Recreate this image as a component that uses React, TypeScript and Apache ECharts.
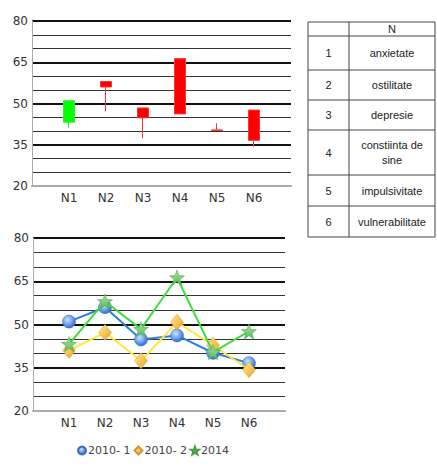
import React, { useEffect, useRef } from "react";
import * as echarts from "echarts";

const categories = ["N1", "N2", "N3", "N4", "N5", "N6"];
const s2010_1 = [51, 56, 44.8, 46.2, 40.2, 36.6];
const s2010_2 = [41, 47.2, 37.4, 50.8, 42.8, 34.3];
const s2014 = [43.2, 58, 48.4, 66.3, 40.4, 47.6];
const seriesNames = ["2010- 1", "2010- 2", "2014"];
const tableHeader = ["", "N"];
const tableNumbers = ["1", "2", "3", "4", "5", "6"];
const tableLabels = ["anxietate", "ostilitate", "depresie", "constiinta de\nsine", "impulsivitate", "vulnerabilitate"];

const STAR = "path://M10 0L12.35 6.76L19.51 6.91L13.8 11.24L15.88 18.09L10 14L4.12 18.09L6.2 11.24L0.49 6.91L7.65 6.76Z";

export default function App() {
  const ref = useRef<HTMLDivElement>(null);
  useEffect(() => {
    if (!ref.current) return;
    const chart = echarts.init(ref.current, undefined, { renderer: "svg" });
    const xData = ["", ...categories, ""];
    const candle = categories.map((c, i) => [
      c,
      s2014[i],
      s2010_1[i],
      Math.min(s2010_1[i], s2010_2[i], s2014[i]),
      Math.max(s2010_1[i], s2010_2[i], s2014[i]),
    ]);
    const font = "DejaVu Sans";
    const mkX = (gi: number) => ({
      type: "category",
      gridIndex: gi,
      data: xData,
      boundaryGap: false,
      axisLine: { show: true, lineStyle: { color: "#aaa", width: 2 } },
      axisTick: { show: false },
      axisLabel: { color: "#333", fontSize: 12, fontFamily: font, margin: 6, interval: 0 },
      splitLine: { show: false },
    });
    const mkY = (gi: number) => ({
      type: "value",
      gridIndex: gi,
      min: 20,
      max: 80,
      interval: 15,
      axisLine: { show: true, lineStyle: { color: "#aaa", width: 1 } },
      axisTick: { show: false },
      axisLabel: { color: "#333", fontSize: 12, fontFamily: font, margin: 4 },
      splitLine: { show: true, lineStyle: { color: "#111", width: 2 } },
      minorTick: { show: false, splitNumber: 3 },
      minorSplitLine: { show: true, lineStyle: { color: "#333", width: 1 } },
    });
    const lineData = (arr: number[]) => categories.map((c, i) => [c, arr[i]]);

    const tableGraphics: any[] = [];
    const colX = [308, 349, 435];
    const rowY = [22, 36, 70, 100, 130, 175, 206, 237];
    tableGraphics.push({
      type: "rect",
      shape: { x: colX[0], y: rowY[0], width: colX[2] - colX[0], height: rowY[rowY.length - 1] - rowY[0] },
      style: { fill: "#fff", stroke: "#444", lineWidth: 1 },
    });
    for (let r = 1; r < rowY.length - 1; r++) {
      tableGraphics.push({
        type: "line",
        shape: { x1: colX[0], y1: rowY[r], x2: colX[2], y2: rowY[r] },
        style: { stroke: "#444", lineWidth: 1 },
      });
    }
    tableGraphics.push({
      type: "line",
      shape: { x1: colX[1], y1: rowY[0], x2: colX[1], y2: rowY[rowY.length - 1] },
      style: { stroke: "#444", lineWidth: 1 },
    });
    const tfont = "Liberation Sans";
    tableGraphics.push({
      type: "text",
      x: (colX[1] + colX[2]) / 2,
      y: (rowY[0] + rowY[1]) / 2,
      style: { text: tableHeader[1], fill: "#222", fontSize: 11, fontFamily: tfont, align: "center", verticalAlign: "middle" },
    });
    tableNumbers.forEach((n, i) => {
      const cy = (rowY[i + 1] + rowY[i + 2]) / 2;
      tableGraphics.push({
        type: "text",
        x: (colX[0] + colX[1]) / 2,
        y: cy,
        style: { text: n, fill: "#222", fontSize: 11, fontFamily: tfont, align: "center", verticalAlign: "middle" },
      });
      tableGraphics.push({
        type: "text",
        x: (colX[1] + colX[2]) / 2,
        y: cy,
        style: { text: tableLabels[i], fill: "#222", fontSize: 11, fontFamily: tfont, align: "center", verticalAlign: "middle", lineHeight: 15 },
      });
    });

    const blueGrad = new echarts.graphic.RadialGradient(0.4, 0.35, 0.7, [
      { offset: 0, color: "#cfe3ff" },
      { offset: 0.5, color: "#6fa6f0" },
      { offset: 1, color: "#2a62c8" },
    ]);
    const goldGrad = new echarts.graphic.LinearGradient(0, 0, 1, 1, [
      { offset: 0, color: "#ffe9a0" },
      { offset: 0.5, color: "#f6c75a" },
      { offset: 1, color: "#e0a030" },
    ]);
    const greenGrad = new echarts.graphic.LinearGradient(0, 0, 0, 1, [
      { offset: 0, color: "#a8e6a0" },
      { offset: 1, color: "#58b858" },
    ]);

    chart.setOption({
      animation: false,
      backgroundColor: "#fff",
      grid: [
        { left: 32, top: 21, width: 259, height: 165 },
        { left: 33, top: 238, width: 252, height: 173 },
      ],
      xAxis: [mkX(0), mkX(1)],
      yAxis: [mkY(0), mkY(1)],
      legend: {
        left: 72,
        top: 440,
        itemWidth: 8,
        itemHeight: 8,
        itemGap: 3,
        textStyle: { color: "#444", fontSize: 11, fontFamily: font, padding: [0, 0, 0, -3] },
        data: [
          { name: seriesNames[0], icon: "circle" },
          { name: seriesNames[1], icon: "diamond" },
          { name: seriesNames[2], icon: STAR },
        ],
      },
      graphic: tableGraphics,
      series: [
        {
          type: "candlestick",
          xAxisIndex: 0,
          yAxisIndex: 0,
          barWidth: 12,
          encode: { x: 0, y: [1, 2, 3, 4] },
          data: candle,
          itemStyle: {
            color: "#00ff00",
            color0: "#ff0000",
            borderColor: "#33ee33",
            borderColor0: "#ff3333",
            borderWidth: 1,
          },
        },
        {
          name: seriesNames[0],
          type: "line",
          xAxisIndex: 1,
          yAxisIndex: 1,
          data: lineData(s2010_1),
          symbol: "circle",
          symbolSize: 13,
          lineStyle: { color: "#2a80e0", width: 2 },
          itemStyle: { color: blueGrad, borderColor: "#3a6cc0", borderWidth: 0.5 },
          z: 3,
        },
        {
          name: seriesNames[1],
          type: "line",
          xAxisIndex: 1,
          yAxisIndex: 1,
          data: lineData(s2010_2),
          symbol: "diamond",
          symbolSize: [13, 16],
          lineStyle: { color: "#ffe83a", width: 2 },
          itemStyle: { color: goldGrad, borderColor: "#d09a30", borderWidth: 0.5 },
          z: 4,
        },
        {
          name: seriesNames[2],
          type: "line",
          xAxisIndex: 1,
          yAxisIndex: 1,
          data: lineData(s2014),
          symbol: STAR,
          symbolSize: 15,
          lineStyle: { color: "#40dd40", width: 2 },
          itemStyle: { color: greenGrad, borderColor: "#4a9a4a", borderWidth: 0.5 },
          z: 5,
        },
      ],
    });
    return () => chart.dispose();
  }, []);
  return <div ref={ref} style={{ position: "absolute", left: 0, top: 0, width: 437, height: 470 }} />;
}
